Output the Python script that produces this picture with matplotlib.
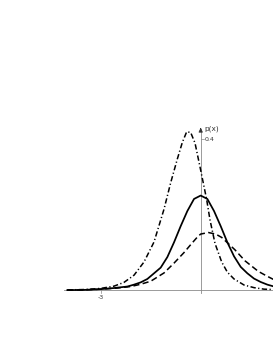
import matplotlib
matplotlib.use("Agg")
import matplotlib.pyplot as plt

# curves
x_solid = [-4.0, -3.5, -3.0, -2.6, -2.2, -2.0, -1.8, -1.6, -1.4, -1.2, -1.0, -0.8, -0.6, -0.4, -0.2, 0.0,
           0.2, 0.4, 0.6, 0.8, 1.0, 1.2, 1.4, 1.6, 1.8, 2.0, 2.2]
y_solid = [0.0005, 0.001, 0.003, 0.006, 0.010, 0.015, 0.021, 0.030, 0.045, 0.060, 0.088, 0.127, 0.170, 0.210, 0.242, 0.251,
           0.242, 0.210, 0.170, 0.127, 0.090, 0.062, 0.045, 0.031, 0.022, 0.015, 0.010]

x_dashed = [-4.0, -3.5, -3.0, -2.5, -2.1, -1.8, -1.5, -1.1, -0.8, -0.5, -0.27, -0.1, 0.0, 0.23, 0.45, 0.63, 0.85,
            1.03, 1.33, 1.53, 1.73, 2.0, 2.2]
y_dashed = [0.0005, 0.001, 0.003, 0.006, 0.010, 0.016, 0.024, 0.046, 0.072, 0.100, 0.124, 0.141, 0.149, 0.153, 0.149,
            0.140, 0.122, 0.107, 0.078, 0.064, 0.050, 0.037, 0.028]

x_dashdot = [-4.0, -3.5, -3.0, -2.6, -2.3, -2.0, -1.7, -1.4, -1.1, -0.9, -0.7, -0.55, -0.42, -0.3, -0.17, 0.0,
             0.18, 0.28, 0.43, 0.63, 0.8, 1.0, 1.3, 1.6, 1.9, 2.2]
y_dashdot = [0.001, 0.002, 0.005, 0.011, 0.021, 0.040, 0.075, 0.128, 0.215, 0.285, 0.348, 0.392, 0.420, 0.418, 0.390,
             0.318, 0.240, 0.186, 0.124, 0.075, 0.048, 0.030, 0.014, 0.007, 0.003, 0.002]

xtick_val = [-3]
xtick_lab = ["-3"]
ytick_val = [0.4]
ytick_lab = ["0.4"]
ylabel = "p(x)"

fig = plt.figure(figsize=(2.73, 3.53), dpi=100)
ax = fig.add_axes([0, 0, 1, 1])
ax.set_xlim(-6.02, 2.169)
ax.set_ylim(-0.1661, 0.769)
ax.axis("off")

axc = "#8a8a8a"
# axes
ax.plot([-4.1, 2.2], [0, 0], color=axc, lw=0.6, zorder=1)
ax.plot([0, 0], [-0.008, 0.428], color=axc, lw=0.6, zorder=1)
ax.annotate("", xy=(0, 0.438), xytext=(0, 0.42),
            arrowprops=dict(arrowstyle="-|>,head_length=0.25,head_width=0.12", color="#333333", lw=0.6))

for v, lab in zip(xtick_val, xtick_lab):
    ax.plot([v, v], [0, -0.006], color=axc, lw=0.5)
    ax.text(v, -0.012, lab, ha="center", va="top", fontsize=4.5, color="#333333")
for v, lab in zip(ytick_val, ytick_lab):
    ax.plot([0, 0.1], [v, v], color=axc, lw=0.5)
    ax.text(0.12, v, lab, ha="left", va="center", fontsize=4.5, color="#333333")
ax.text(0.12, 0.427, ylabel, ha="left", va="center", fontsize=5.3, color="#333333")

ax.plot(x_solid, y_solid, color="black", lw=1.25, solid_joinstyle="round", zorder=3)
ax.plot(x_dashed, y_dashed, color="black", lw=1.1, dashes=(4, 2.2), zorder=3)
ax.plot(x_dashdot, y_dashdot, color="black", lw=1.1, dashes=(3.5, 1.6, 0.8, 1.6), zorder=3)

fig.savefig("out.png", dpi=100)
